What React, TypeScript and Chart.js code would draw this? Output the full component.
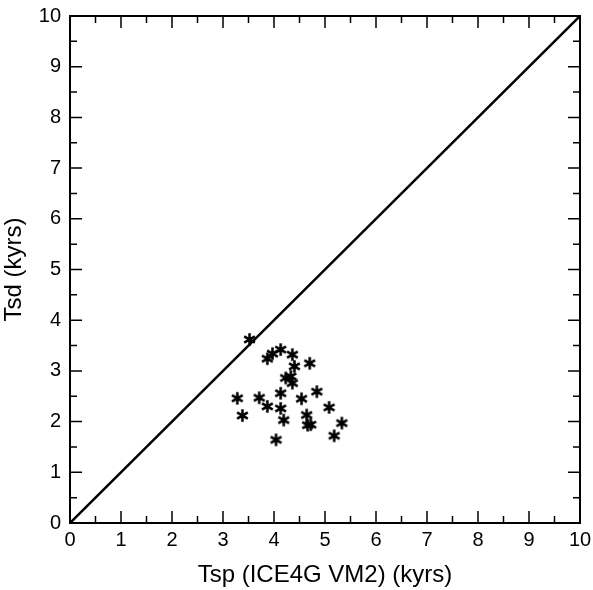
import React, { useEffect, useRef } from "react";
import { Chart, registerables } from "chart.js";

Chart.register(...registerables);

const tspValues = [3.52, 3.87, 3.97, 4.13, 4.36, 4.40, 4.70, 4.23, 4.33, 4.36, 4.13, 4.84, 4.54, 3.28, 3.71, 3.87, 4.13, 4.19, 3.38, 4.04, 5.08, 4.64, 4.66, 4.72, 5.33, 5.18];
const tsdValues = [3.62, 3.24, 3.34, 3.42, 3.32, 3.09, 3.15, 2.86, 2.89, 2.76, 2.56, 2.59, 2.45, 2.46, 2.47, 2.30, 2.26, 2.03, 2.12, 1.64, 2.28, 2.13, 1.93, 1.94, 1.97, 1.72];
const lineX = [0, 10];
const lineY = [0, 10];
const tickValues = [0, 1, 2, 3, 4, 5, 6, 7, 8, 9, 10];
const xTitle = "Tsp (ICE4G VM2) (kyrs)";
const yTitle = "Tsd (kyrs)";

function makeAsterisk(): HTMLCanvasElement {
  const c = document.createElement("canvas");
  const s = 15;
  c.width = s;
  c.height = s;
  const ctx = c.getContext("2d")!;
  ctx.strokeStyle = "#000";
  ctx.lineWidth = 2.6;
  ctx.lineCap = "butt";
  const cx = s / 2, cy = s / 2, r = 6.2;
  ctx.beginPath();
  for (let k = 0; k < 3; k++) {
    const a = Math.PI / 2 + (k * Math.PI) / 3;
    ctx.moveTo(cx + r * Math.cos(a), cy + r * Math.sin(a));
    ctx.lineTo(cx - r * Math.cos(a), cy - r * Math.sin(a));
  }
  ctx.stroke();
  return c;
}

const framePlugin = {
  id: "frameTicks",
  afterDraw(chart: any) {
    const { ctx, chartArea, scales } = chart;
    const { left, right, top, bottom } = chartArea;
    ctx.save();
    ctx.strokeStyle = "#000";
    ctx.lineWidth = 1.5;
    ctx.beginPath();
    for (let v = 0; v <= 10; v += 0.5) {
      const major = Math.abs(v - Math.round(v)) < 1e-6;
      const len = major ? 12 : 7;
      const px = scales.x.getPixelForValue(v);
      const py = scales.y.getPixelForValue(v);
      ctx.moveTo(px, bottom);
      ctx.lineTo(px, bottom - len);
      ctx.moveTo(px, top);
      ctx.lineTo(px, top + len);
      ctx.moveTo(left, py);
      ctx.lineTo(left + len, py);
      ctx.moveTo(right, py);
      ctx.lineTo(right - len, py);
    }
    ctx.stroke();
    ctx.lineWidth = 2;
    ctx.strokeRect(left, top, right - left, bottom - top);
    ctx.restore();
  },
};

export default function App() {
  const ref = useRef<HTMLCanvasElement>(null);
  useEffect(() => {
    const star = makeAsterisk();
    const family = "'Liberation Sans', Arial, sans-serif";
    const tickFont = { family, size: 20 };
    const titleFont = { family, size: 24 };
    const chart = new Chart(ref.current!, {
      type: "scatter",
      data: {
        datasets: [
          {
            type: "line",
            data: lineX.map((x, i) => ({ x, y: lineY[i] })),
            borderColor: "#000",
            borderWidth: 2.5,
            pointRadius: 0,
            showLine: true,
            fill: false,
          } as any,
          {
            data: tspValues.map((x, i) => ({ x, y: tsdValues[i] })),
            pointStyle: star as any,
            pointRadius: 7,
          },
        ],
      },
      plugins: [framePlugin],
      options: {
        responsive: false,
        animation: false,
        layout: { padding: { top: 16, right: 13, left: 0, bottom: 0 } },
        plugins: { legend: { display: false }, tooltip: { enabled: false } },
        scales: {
          x: {
            type: "linear",
            min: 0,
            max: 10,
            afterBuildTicks: (s: any) => {
              s.ticks = tickValues.map((v) => ({ value: v }));
            },
            afterFit: (s: any) => {
              s.height = 67;
              s.paddingLeft = 0;
              s.paddingRight = 0;
              s.paddingTop = 0;
              s.paddingBottom = 0;
            },
            grid: { display: false, drawTicks: false },
            border: { display: false },
            ticks: { color: "#000", font: tickFont, padding: 5, maxRotation: 0 },
            title: { display: true, text: xTitle, color: "#000", font: titleFont, padding: { top: 4, bottom: 0 } },
          },
          y: {
            type: "linear",
            min: 0,
            max: 10,
            afterBuildTicks: (s: any) => {
              s.ticks = tickValues.map((v) => ({ value: v }));
            },
            afterFit: (s: any) => {
              s.width = 70;
              s.paddingLeft = 0;
              s.paddingRight = 0;
              s.paddingTop = 0;
              s.paddingBottom = 0;
            },
            grid: { display: false, drawTicks: false },
            border: { display: false },
            ticks: { color: "#000", font: tickFont, padding: 9 },
            title: { display: true, text: yTitle, color: "#000", font: titleFont, padding: { top: 0, bottom: 2 } },
          },
        },
      },
    });
    return () => chart.destroy();
  }, []);
  return (
    <div style={{ position: "fixed", left: 0, top: 0, width: 593, height: 590, background: "#fff" }}>
      <canvas ref={ref} width={593} height={590} style={{ display: "block" }} />
    </div>
  );
}
